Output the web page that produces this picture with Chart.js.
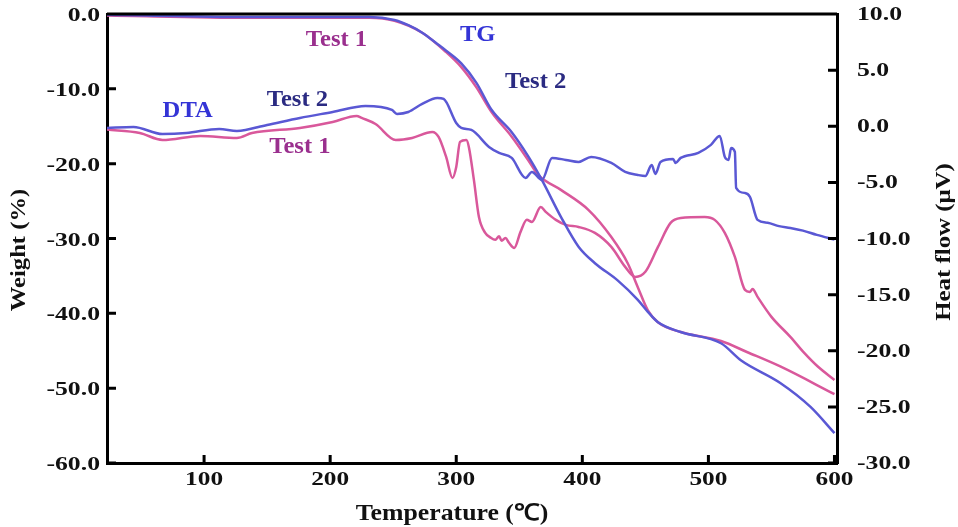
<!DOCTYPE html>
<html>
<head>
<meta charset="utf-8">
<script src="https://cdn.jsdelivr.net/npm/chart.js@4.4.1/dist/chart.umd.min.js"></script>
<style>
  html, body { margin: 0; padding: 0; background: #fff; }
  #wrap { width: 958px; height: 527px; position: relative; }
</style>
</head>
<body>
<div id="wrap"><canvas id="tgdta"></canvas></div>
<script>
// TG curves (left axis, weight %)
const tempTG2 = [23, 136, 231, 251, 262, 273, 285, 292, 304, 316, 328, 344, 357, 368, 383, 397, 410, 428, 444, 452, 460, 478, 510, 526, 557, 581, 600];
const weightTG2 = [-0.1, -0.4, -0.4, -0.8, -1.5, -2.5, -4.0, -4.9, -6.6, -9.2, -12.8, -15.8, -19.0, -22.2, -27.1, -31.1, -33.3, -35.6, -38.2, -39.8, -41.2, -42.5, -44.0, -46.3, -49.3, -52.5, -56.0];

const tempTG1 = [23, 136, 231, 251, 273, 292, 304, 316, 328, 344, 357, 365, 383, 405, 423, 436, 444, 452, 460, 478, 510, 531, 557, 600];
const weightTG1 = [-0.2, -0.5, -0.5, -0.9, -2.5, -5.1, -7.1, -9.8, -13.1, -16.4, -19.5, -21.5, -23.5, -26.2, -29.8, -33.3, -36.5, -39.6, -41.2, -42.5, -43.7, -45.2, -47.1, -50.8];

// DTA curves (right axis, heat flow µV)
const tempDTA2 = [23, 44, 67, 86, 112, 126, 150, 176, 202, 228, 249, 253, 262, 273, 285, 290, 300, 304, 312, 326, 334, 344, 355, 360, 368, 376, 387, 397, 407, 423, 434, 444, 450, 455, 458, 462, 472, 474, 478, 492, 502, 509, 513, 516, 518, 521, 522, 529, 533, 539, 547, 556, 565, 575, 586, 600];
const heatDTA2 = [-0.15, -0.06, -0.69, -0.6, -0.24, -0.42, 0.12, 0.74, 1.27, 1.81, 1.45, 1.1, 1.27, 1.99, 2.52, 2.43, 0.29, -0.15, -0.33, -1.84, -2.38, -2.82, -4.6, -4.07, -4.78, -2.82, -3.0, -3.18, -2.73, -3.27, -4.07, -4.34, -4.43, -3.45, -4.25, -3.18, -2.91, -3.27, -2.82, -2.38, -1.66, -0.86, -2.73, -3.0, -1.93, -2.29, -5.49, -5.94, -6.3, -8.34, -8.6, -8.9, -9.06, -9.3, -9.68, -10.1];

const tempDTA1 = [23, 49, 67, 97, 126, 138, 176, 202, 221, 225, 236, 252, 265, 281, 286, 292, 297, 300, 303, 308, 310, 314, 318, 323, 327, 331, 334, 336, 339, 342, 346, 351, 356, 360, 367, 371, 379, 387, 397, 410, 423, 434, 442, 450, 460, 470, 478, 497, 505, 513, 521, 529, 533, 535, 539, 550, 565, 576, 587, 600];
const heatDTA1 = [-0.3, -0.6, -1.22, -0.86, -1.04, -0.6, -0.15, 0.38, 0.92, 0.74, 0.2, -1.22, -1.04, -0.51, -0.95, -2.73, -4.6, -3.62, -1.4, -1.22, -1.84, -4.78, -8.08, -9.5, -9.9, -10.12, -9.8, -10.2, -9.95, -10.4, -10.84, -9.41, -8.34, -8.52, -7.19, -7.63, -8.34, -8.79, -8.97, -9.5, -10.75, -12.53, -13.42, -12.97, -10.75, -8.61, -8.17, -8.08, -8.34, -9.5, -11.64, -14.58, -14.76, -14.49, -15.2, -16.98, -18.76, -20.19, -21.43, -22.6];

const tempTicks = [100, 200, 300, 400, 500, 600];
const weightTicks = [0, -10, -20, -30, -40, -50, -60];
const heatTicks = [10, 5, 0, -5, -10, -15, -20, -25, -30];

// text labels placed in data units (temperature, weight)
const notes = [
  { text: "Test 1", t: 205, w: -3.5, color: "#9a2f8e" },
  { text: "TG", t: 317, w: -2.8, color: "#3434d6" },
  { text: "Test 2", t: 363, w: -9.1, color: "#2b2b82" },
  { text: "DTA", t: 87, w: -13.0, color: "#3434d6" },
  { text: "Test 2", t: 174, w: -11.5, color: "#2b2b82" },
  { text: "Test 1", t: 176, w: -17.8, color: "#9a2f8e" }
];

const BLUE = "#5a58d4";
const PINK = "#d9589b";
const SERIF = '"Liberation Serif", "Times New Roman", serif';

function pts(xs, ys) {
  return xs.map((x, i) => ({ x, y: ys[i] }));
}

function fixTicks(values) {
  return (scale) => { scale.ticks = values.map((v) => ({ value: v })); };
}

// the source figure uses wide bold serif type, so text is stretched a bit
function wideText(ctx, text, x, y, size, stretch, align, rot) {
  ctx.save();
  ctx.translate(x, y);
  if (rot) ctx.rotate(rot);
  ctx.scale(stretch, 1);
  ctx.font = `bold ${size}px ${SERIF}`;
  ctx.textAlign = align;
  ctx.textBaseline = "middle";
  ctx.fillText(text, 0, 0);
  ctx.restore();
}

const axisBorder = { display: true, color: "#000", width: 3 };

const framePlugin = {
  id: "framePlugin",
  afterDraw(chart) {
    const ctx = chart.ctx;
    const a = chart.chartArea;
    const sx = chart.scales.x, sw = chart.scales.yW, sh = chart.scales.yH;

    ctx.save();
    ctx.strokeStyle = "#000";
    ctx.lineWidth = 3;
    ctx.beginPath();
    ctx.moveTo(a.left, a.top);
    ctx.lineTo(a.right, a.top);
    // inward ticks
    tempTicks.forEach((v) => {
      const px = sx.getPixelForValue(v);
      ctx.moveTo(px, a.bottom);
      ctx.lineTo(px, a.bottom - 8);
    });
    weightTicks.forEach((v) => {
      const py = sw.getPixelForValue(v);
      ctx.moveTo(a.left, py);
      ctx.lineTo(a.left + 9, py);
    });
    heatTicks.forEach((v) => {
      const py = sh.getPixelForValue(v);
      ctx.moveTo(a.right, py);
      ctx.lineTo(a.right - 9, py);
    });
    ctx.stroke();

    // tick labels
    ctx.fillStyle = "#111";
    tempTicks.forEach((v) => {
      wideText(ctx, String(v), sx.getPixelForValue(v), a.bottom + 17, 19.5, 1.3, "center");
    });
    weightTicks.forEach((v) => {
      wideText(ctx, v.toFixed(1), a.left - 7, sw.getPixelForValue(v) + 2, 19.5, 1.32, "right");
    });
    heatTicks.forEach((v) => {
      wideText(ctx, v.toFixed(1), a.right + 20, sh.getPixelForValue(v) + 1, 19.5, 1.32, "left");
    });

    // axis titles
    wideText(ctx, "Temperature (℃)", 452, 514, 23, 1.12, "center");
    wideText(ctx, "Weight (%)", 19, 250, 22, 1.12, "center", -Math.PI / 2);
    wideText(ctx, "Heat flow (μV)", 944, 242, 22, 1.13, "center", -Math.PI / 2);

    // curve labels
    notes.forEach((n) => {
      ctx.fillStyle = n.color;
      wideText(ctx, n.text, sx.getPixelForValue(n.t), sw.getPixelForValue(n.w), 23, 1.07, "center");
    });
    ctx.restore();
  }
};

new Chart(document.getElementById("tgdta"), {
  type: "line",
  data: {
    datasets: [
      { label: "DTA Test 2", data: pts(tempDTA2, heatDTA2), yAxisID: "yH", borderColor: BLUE },
      { label: "TG Test 2", data: pts(tempTG2, weightTG2), yAxisID: "yW", borderColor: BLUE },
      { label: "DTA Test 1", data: pts(tempDTA1, heatDTA1), yAxisID: "yH", borderColor: PINK },
      { label: "TG Test 1", data: pts(tempTG1, weightTG1), yAxisID: "yW", borderColor: PINK }
    ]
  },
  options: {
    responsive: true,
    maintainAspectRatio: false,
    animation: false,
    layout: { padding: { top: 14, left: 0, right: 0, bottom: 0 } },
    elements: {
      point: { radius: 0 },
      line: { borderWidth: 2.5, cubicInterpolationMode: "monotone", fill: false }
    },
    plugins: {
      legend: { display: false },
      tooltip: { enabled: false }
    },
    scales: {
      x: {
        type: "linear",
        position: "bottom",
        min: 23,
        max: 602,
        grid: { display: false },
        border: axisBorder,
        afterBuildTicks: fixTicks(tempTicks),
        afterFit: (s) => { s.height = 64; },
        ticks: { display: false }
      },
      yW: {
        type: "linear",
        position: "left",
        min: -60,
        max: 0,
        grid: { display: false },
        border: axisBorder,
        afterBuildTicks: fixTicks(weightTicks),
        afterFit: (s) => { s.width = 107; },
        ticks: { display: false }
      },
      yH: {
        type: "linear",
        position: "right",
        min: -30,
        max: 10,
        grid: { display: false },
        border: axisBorder,
        afterBuildTicks: fixTicks(heatTicks),
        afterFit: (s) => { s.width = 121; },
        ticks: { display: false }
      }
    }
  },
  plugins: [framePlugin]
});
</script>
</body>
</html>
